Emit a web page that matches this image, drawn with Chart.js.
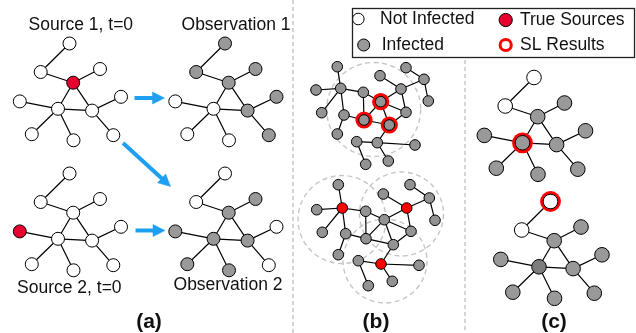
<!DOCTYPE html>
<html>
<head>
<meta charset="utf-8">
<script src="https://cdn.jsdelivr.net/npm/chart.js@4/dist/chart.umd.min.js"></script>
<style>
  html, body { margin: 0; padding: 0; background: #fff; }
  #wrap { width: 636px; height: 333px; position: relative; }
</style>
</head>
<body>
<div id="wrap"><canvas id="cv"></canvas></div>
<script>
// ---- 11-node contact tree (panels a and c) ----
const treeX = [69.5, 40.7, 73.2, 100, 19.8, 58, 92.1, 121, 31.8, 73.5, 113.3];
const treeY = [43.5, 72, 82.7, 69, 101.4, 108.8, 110.6, 96.8, 134.2, 140.3, 135.2];
const treeFrom = [0, 1, 2, 2, 2, 4, 5, 5, 5, 6, 6];
const treeTo   = [1, 2, 3, 5, 6, 5, 6, 8, 9, 7, 10];
// copies of the tree: source 1, observation 1, source 2, observation 2, (c) top, (c) bottom
const treeShiftX = [0, 155.5, 0, 155.5, 464.5, 481];
const treeShiftY = [0, 0, 130, 130, 34, 158];
// node state: 0 not infected, 1 infected, 2 true source, 3 infected hub
const treeState = [
  [0, 0, 2, 0, 0, 0, 0, 0, 0, 0, 0],
  [1, 1, 1, 1, 0, 0, 1, 1, 0, 0, 1],
  [0, 0, 0, 0, 2, 0, 0, 0, 0, 0, 0],
  [0, 0, 1, 1, 1, 1, 1, 0, 1, 1, 0],
  [0, 0, 1, 1, 1, 1, 1, 1, 1, 1, 1],
  [0, 0, 1, 1, 1, 3, 1, 1, 1, 1, 1]
];
// node picked by source localisation in each copy (-1: none)
const treeSL = [-1, -1, -1, -1, 5, 0];

// ---- 21-node network (panel b) ----
const netTopX = [337.3, 316, 340.7, 321.7, 344, 337.3, 363.3, 380, 406, 424, 428.3, 401, 380.7, 406, 364, 389.3, 356.7, 377.3, 415, 365.7, 388.3];
const netTopY = [66.7, 90, 88.3, 112.7, 115, 134, 92.3, 75.7, 67.7, 79.3, 101, 89, 101.7, 112.3, 120, 125, 141.7, 142.7, 145, 164.3, 161];
const netBotX = [338.3, 316.7, 342.3, 322.3, 345.7, 338.3, 365.7, 383.3, 410, 429.3, 435, 406.7, 384.3, 411, 366, 393.3, 358.3, 381, 419, 368.3, 392.3];
const netBotY = [184.7, 209.7, 208, 232.3, 233.7, 254.7, 211.3, 194, 184.7, 198, 220.3, 208, 219.7, 231.3, 238.7, 244.7, 260.7, 264, 265.3, 285.7, 281.3];
const netFrom = [0, 1, 2, 2, 2, 4, 4, 6, 6, 7, 8, 9, 9, 11, 11, 12, 12, 12, 13, 14, 15, 16, 16, 17, 17];
const netTo   = [2, 2, 3, 4, 6, 5, 14, 14, 12, 11, 9, 10, 11, 12, 13, 13, 14, 15, 15, 15, 17, 17, 19, 18, 20];
const netTopSL = [12, 14, 15];
const netBotSources = [2, 11, 17];
// infection neighbourhoods around the sources
const zoneX = [373.7, 342, 401.5, 385];
const zoneY = [109.5, 219.5, 214, 261];
const zoneR = [47, 44, 42, 42];

// ---- arrows between the (a) graphs ----
const arrowFromX = [134.5, 123, 135.5];
const arrowFromY = [98, 143, 230.5];
const arrowToX = [164.5, 170.5, 165];
const arrowToY = [98, 186.5, 230.5];

// ---- texts ----
const captionText = ['Source 1, t=0', 'Observation 1', 'Source 2, t=0', 'Observation 2'];
const captionX = [80.8, 236, 69.3, 228];
const captionY = [25, 25, 288, 285];
const panelText = ['(a)', '(b)', '(c)'];
const panelX = [149, 376, 554];
const panelY = [322, 322, 322];
const legendText = ['Not Infected', 'Infected', 'True Sources', 'SL Results'];
const legendMarkX = [358.3, 363.7, 505.7, 505.7];
const legendMarkY = [19, 45, 20, 45];
const legendTextX = [380, 381.7, 520, 520];
const legendTextY = [19, 45, 20, 45];

// ---- styling ----
const WHITE = '#ffffff', GREY = '#999999', GREY_B = '#939393', HUB = '#7d7d7d';
const CRIMSON = '#e6002e', RED = '#ff0000', BLUE = '#1e9ff0';
const FONT = '"Liberation Sans", Arial, Helvetica, sans-serif';
const stateFill = [WHITE, GREY, CRIMSON, HUB];

const datasets = [];
const GAP = { x: null, y: null };

function edgeData(xs, ys, from, to, dx, dy) {
  const d = [];
  from.forEach((f, k) => {
    d.push({ x: xs[f] + dx, y: ys[f] + dy }, { x: xs[to[k]] + dx, y: ys[to[k]] + dy }, GAP);
  });
  return d;
}
function lineSet(data, color, width, order, extra) {
  return Object.assign({
    type: 'line', data, borderColor: color, borderWidth: width, pointRadius: 0,
    pointHoverRadius: 0, fill: false, tension: 0, spanGaps: false, order
  }, extra || {});
}

// panel separators
datasets.push(lineSet([{ x: 293, y: 0 }, { x: 293, y: 333 }], '#c4c4c4', 1.4, 20, { borderDash: [4, 3] }));
datasets.push(lineSet([{ x: 465, y: 60 }, { x: 465, y: 333 }], '#c4c4c4', 1.4, 20, { borderDash: [4, 3] }));

// dashed neighbourhood circles
datasets.push({
  type: 'scatter', dashedZone: true, order: 15,
  data: zoneX.map((x, i) => ({ x, y: zoneY[i] })),
  pointRadius: zoneR, pointHoverRadius: zoneR,
  pointBackgroundColor: 'rgba(0,0,0,0)', pointBorderColor: '#c6c6c6', pointBorderWidth: 1.4
});

// trees
treeShiftX.forEach((dx, t) => {
  const dy = treeShiftY[t];
  const r = t >= 4 ? 7.3 : 6.5;
  datasets.push(lineSet(edgeData(treeX, treeY, treeFrom, treeTo, dx, dy), '#000', 1.2, 10));
  if (treeSL[t] >= 0) {
    const k = treeSL[t];
    datasets.push({
      type: 'scatter', order: 6, data: [{ x: treeX[k] + dx, y: treeY[k] + dy }],
      pointRadius: 10.4, pointHoverRadius: 10.4, pointBackgroundColor: RED, pointBorderWidth: 0
    });
  }
  datasets.push({
    type: 'scatter', order: 5,
    data: treeX.map((x, i) => ({ x: x + dx, y: treeY[i] + dy })),
    pointRadius: r, pointHoverRadius: r,
    pointBackgroundColor: treeState[t].map(s => stateFill[s]),
    pointBorderColor: '#000', pointBorderWidth: 1
  });
});

// networks of panel b
[[netTopX, netTopY, netTopSL, []], [netBotX, netBotY, [], netBotSources]].forEach(([xs, ys, sl, src]) => {
  datasets.push(lineSet(edgeData(xs, ys, netFrom, netTo, 0, 0), '#000', 1.2, 10));
  if (sl.length) {
    datasets.push({
      type: 'scatter', order: 6, data: sl.map(k => ({ x: xs[k], y: ys[k] })),
      pointRadius: 8.6, pointHoverRadius: 8.6, pointBackgroundColor: RED, pointBorderWidth: 0
    });
  }
  datasets.push({
    type: 'scatter', order: 5,
    data: xs.map((x, i) => ({ x, y: ys[i] })),
    pointRadius: 5.3, pointHoverRadius: 5.3,
    pointBackgroundColor: xs.map((_, i) => src.includes(i) ? RED : GREY_B),
    pointBorderColor: '#000', pointBorderWidth: 1
  });
});

// arrows: shaft plus filled head
arrowFromX.forEach((x0, i) => {
  const y0 = arrowFromY[i], x1 = arrowToX[i], y1 = arrowToY[i];
  const len = Math.hypot(x1 - x0, y1 - y0);
  const ux = (x1 - x0) / len, uy = (y1 - y0) / len;
  const headL = 12, headW = 6;
  const bx = x1 - ux * headL, by = y1 - uy * headL;
  datasets.push(lineSet([{ x: x0, y: y0 }, { x: bx + ux, y: by + uy }], BLUE, 4, 8, { borderCapStyle: 'butt' }));
  datasets.push(lineSet([
    { x: x1, y: y1 },
    { x: bx - uy * headW, y: by + ux * headW },
    { x: bx + uy * headW, y: by - ux * headW },
    { x: x1, y: y1 }
  ], BLUE, 0.5, 8, { fill: 'shape', backgroundColor: BLUE }));
});

// legend markers
datasets.push({
  type: 'scatter', order: 1,
  data: legendMarkX.map((x, i) => ({ x, y: legendMarkY[i] })),
  pointRadius: [5.8, 6, 6.6, 5.6], pointHoverRadius: [5.8, 6, 6.6, 5.6],
  pointBackgroundColor: [WHITE, GREY, CRIMSON, WHITE],
  pointBorderColor: ['#000', '#000', '#000', RED],
  pointBorderWidth: [1, 1, 1, 3]
});

const decorations = {
  id: 'decorations',
  beforeDatasetDraw(chart, args) {
    if (args.meta && chart.data.datasets[args.index].dashedZone) {
      chart.ctx.save();
      chart.ctx.setLineDash([5, 3.5]);
    }
  },
  afterDatasetDraw(chart, args) {
    if (args.meta && chart.data.datasets[args.index].dashedZone) chart.ctx.restore();
  },
  afterDatasetsDraw(chart) {
    const { ctx, scales: { x, y } } = chart;
    const px = v => x.getPixelForValue(v), py = v => y.getPixelForValue(v);
    ctx.save();
    // legend frame
    ctx.strokeStyle = '#222';
    ctx.lineWidth = 1.3;
    ctx.strokeRect(px(352.5), py(8.5), px(634.5) - px(352.5), py(57.5) - py(8.5));
    ctx.fillStyle = '#111';
    ctx.textBaseline = 'middle';
    ctx.font = '17.5px ' + FONT;
    ctx.textAlign = 'left';
    legendText.forEach((t, i) => ctx.fillText(t, px(legendTextX[i]), py(legendTextY[i])));
    ctx.textAlign = 'center';
    captionText.forEach((t, i) => ctx.fillText(t, px(captionX[i]), py(captionY[i])));
    ctx.font = 'bold 21px ' + FONT;
    panelText.forEach((t, i) => ctx.fillText(t, px(panelX[i]), py(panelY[i])));
    ctx.restore();
  }
};

new Chart(document.getElementById('cv'), {
  type: 'scatter',
  data: { datasets },
  options: {
    responsive: true,
    maintainAspectRatio: false,
    animation: false,
    events: [],
    layout: { padding: 0, autoPadding: false },
    scales: {
      x: { type: 'linear', min: 0, max: 636, display: false },
      y: { type: 'linear', min: 0, max: 333, reverse: true, display: false }
    },
    plugins: { legend: { display: false }, tooltip: { enabled: false } }
  },
  plugins: [decorations]
});
</script>
</body>
</html>
